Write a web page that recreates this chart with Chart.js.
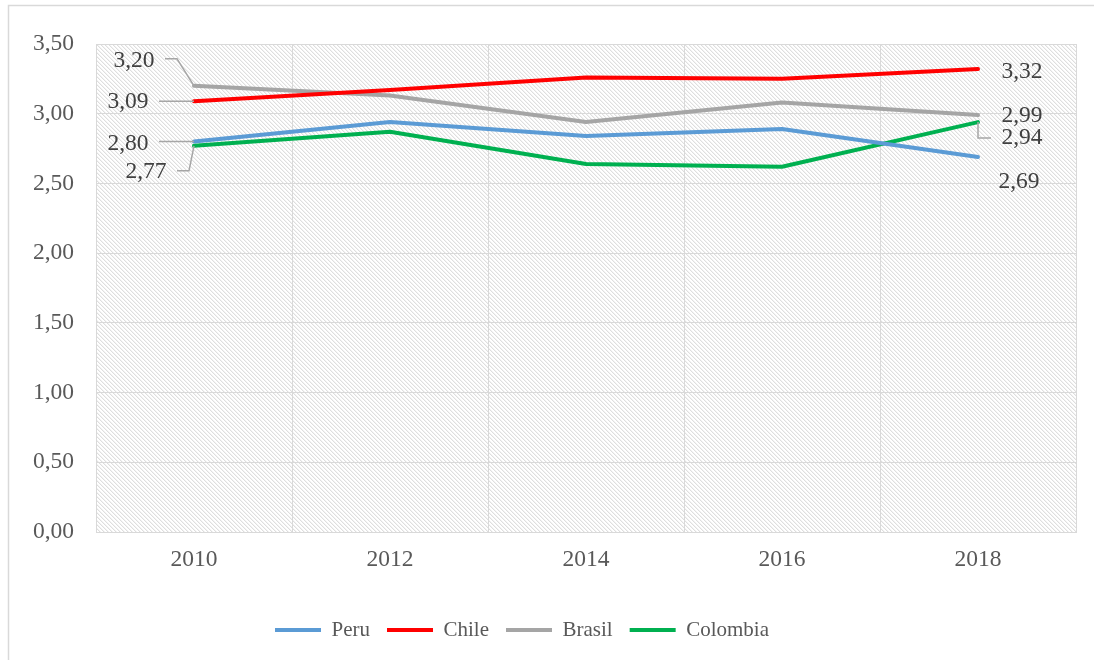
<!DOCTYPE html>
<html>
<head>
<meta charset="utf-8">
<script src="https://cdn.jsdelivr.net/npm/chart.js@4/dist/chart.umd.min.js"></script>
<style>
  html, body { margin: 0; padding: 0; background: #fff; }
  #wrap { position: relative; width: 1094px; height: 660px; }
</style>
</head>
<body>
<div id="wrap"><canvas id="chart"></canvas></div>
<script>
(function () {
  'use strict';

  // ---- Data ----------------------------------------------------
  var years = ['2010', '2012', '2014', '2016', '2018'];
  var peru = [2.80, 2.94, 2.84, 2.89, 2.69];
  var chile = [3.09, 3.17, 3.26, 3.25, 3.32];
  var brasil = [3.20, 3.13, 2.94, 3.08, 2.99];
  var colombia = [2.77, 2.87, 2.64, 2.62, 2.94];
  var yTicks = [0, 0.5, 1, 1.5, 2, 2.5, 3, 3.5];

  var serif = "'Liberation Serif', 'Times New Roman', serif";

  function fmt(v) { return v.toFixed(2).replace('.', ','); }

  // ---- Label placement (offset from the point, in px) ----------
  // ds: dataset index, i: point index
  var labelSpecs = [
    { ds: 2, i: 0, dx: -60, dy: -25, leader: [[0, 0], [-17, -27], [-29, -27]] },
    { ds: 1, i: 0, dx: -66, dy: 1, leader: [[0, 0], [-35, 0]] },
    { ds: 0, i: 0, dx: -66, dy: 2, leader: [[0, 0], [-35, 0]] },
    { ds: 3, i: 0, dx: -48, dy: 26, leader: [[0, 0], [-5, 25], [-17, 25]] },
    { ds: 1, i: 4, dx: 44, dy: 3 },
    { ds: 2, i: 4, dx: 44, dy: 1 },
    { ds: 3, i: 4, dx: 44, dy: 16, leader: [[0, 0], [0, 16], [13, 16]] },
    { ds: 0, i: 4, dx: 41, dy: 25 }
  ];

  // ---- Hatched plot background + outer frame --------------------
  function hatchPattern(ctx) {
    var c = document.createElement('canvas');
    c.width = 4; c.height = 4;
    var g = c.getContext('2d');
    var img = g.createImageData(4, 4);
    for (var y = 0; y < 4; y++) {
      for (var x = 0; x < 4; x++) {
        var d = ((x - y) % 4 + 4) % 4;
        var v = d === 0 ? 222 : (d === 1 ? 243 : 255);
        var k = (y * 4 + x) * 4;
        img.data[k] = v; img.data[k + 1] = v; img.data[k + 2] = v; img.data[k + 3] = 255;
      }
    }
    g.putImageData(img, 0, 0);
    return ctx.createPattern(c, 'repeat');
  }

  var backdrop = {
    id: 'backdrop',
    beforeDraw: function (chart) {
      var ctx = chart.ctx;
      var a = chart.chartArea;
      ctx.save();
      ctx.fillStyle = hatchPattern(ctx);
      ctx.fillRect(a.left, a.top, a.right - a.left, a.bottom - a.top);
      // frame (only left and top edges are visible)
      ctx.strokeStyle = '#d9d9d9';
      ctx.lineWidth = 1.5;
      ctx.beginPath();
      ctx.moveTo(8.5, chart.height);
      ctx.lineTo(8.5, 5.5);
      ctx.lineTo(chart.width, 5.5);
      ctx.stroke();
      ctx.restore();
    }
  };

  var pointLabels = {
    id: 'pointLabels',
    afterDatasetsDraw: function (chart) {
      var ctx = chart.ctx;
      ctx.save();
      labelSpecs.forEach(function (s) {
        var el = chart.getDatasetMeta(s.ds).data[s.i];
        var px = el.x, py = el.y;
        if (s.leader) {
          ctx.strokeStyle = '#a6a6a6';
          ctx.lineWidth = 1.5;
          ctx.beginPath();
          s.leader.forEach(function (p, k) {
            if (k === 0) ctx.moveTo(px + p[0], py + p[1]);
            else ctx.lineTo(px + p[0], py + p[1]);
          });
          ctx.stroke();
        }
        ctx.fillStyle = '#404040';
        ctx.font = '23.5px ' + serif;
        ctx.textAlign = 'center';
        ctx.textBaseline = 'middle';
        ctx.fillText(fmt(chart.data.datasets[s.ds].data[s.i]), px + s.dx, py + s.dy);
      });
      ctx.restore();
    }
  };

  function series(label, data, color) {
    return {
      label: label,
      data: data,
      borderColor: color,
      backgroundColor: color,
      borderWidth: 4,
      borderCapStyle: 'round',
      borderJoinStyle: 'round',
      pointRadius: 0,
      pointHoverRadius: 0,
      tension: 0,
      fill: false
    };
  }

  new Chart(document.getElementById('chart'), {
    type: 'line',
    data: {
      labels: years,
      datasets: [
        series('Peru', peru, '#5b9bd5'),
        series('Chile', chile, '#ff0000'),
        series('Brasil', brasil, '#a5a5a5'),
        series('Colombia', colombia, '#00b050')
      ]
    },
    options: {
      responsive: true,
      maintainAspectRatio: false,
      animation: false,
      // negative left padding pulls the legend's centre left to match the original
      layout: { padding: { top: 44, right: 18, left: -32, bottom: 9.5 } },
      plugins: {
        tooltip: { enabled: false },
        legend: {
          position: 'bottom',
          labels: {
            usePointStyle: true,
            pointStyle: 'line',
            pointStyleWidth: 46,
            padding: 17,
            color: '#595959',
            font: { family: serif, size: 21 }
          }
        }
      },
      scales: {
        x: {
          offset: true,
          grid: { offset: true, color: '#d9d9d9', lineWidth: 1, drawTicks: false },
          border: { color: '#d9d9d9' },
          ticks: { padding: 14, color: '#595959', font: { family: serif, size: 23.5 } },
          afterFit: function (scale) { scale.height = 70.5; }
        },
        y: {
          min: 0,
          max: 3.5,
          afterBuildTicks: function (scale) {
            scale.ticks = yTicks.map(function (v) { return { value: v }; });
          },
          grid: { color: '#d9d9d9', lineWidth: 1, drawTicks: false },
          border: { color: '#d9d9d9' },
          ticks: {
            padding: 22,
            color: '#595959',
            font: { family: serif, size: 23.5 },
            callback: function (v) { return fmt(v); }
          },
          afterFit: function (scale) { scale.width = 128; }
        }
      }
    },
    plugins: [backdrop, pointLabels]
  });
})();
</script>
</body>
</html>
